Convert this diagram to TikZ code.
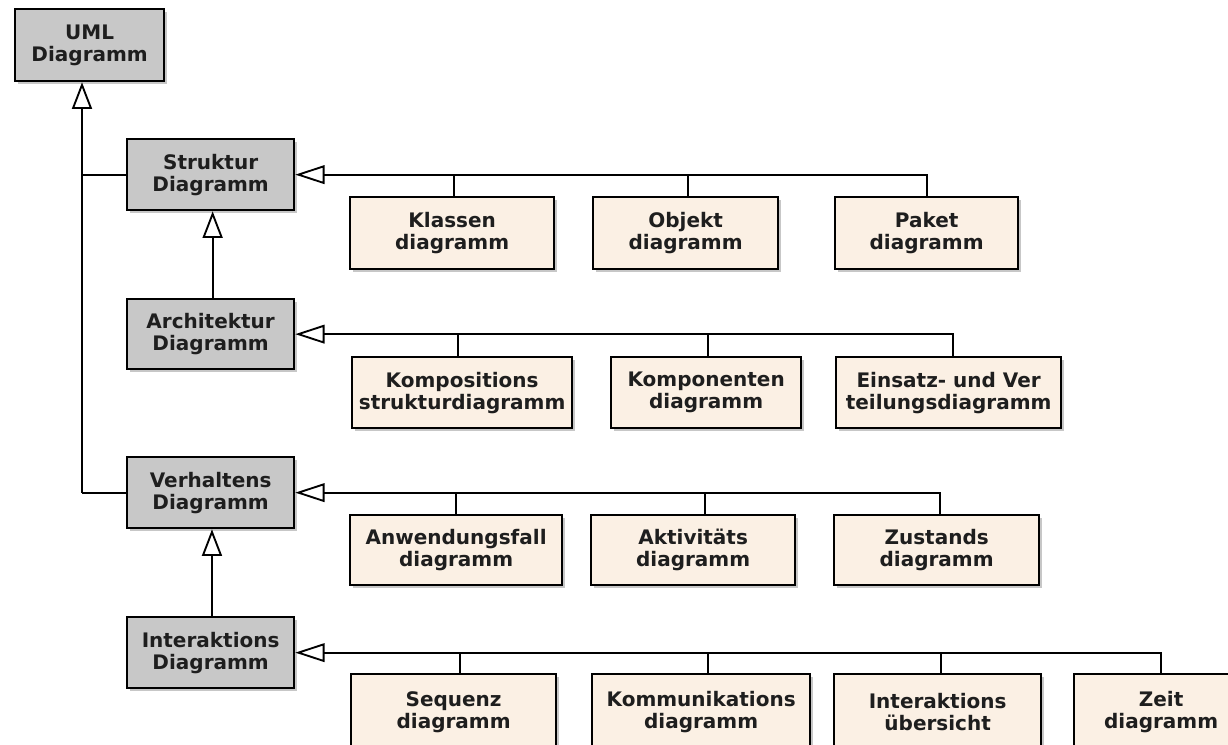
\documentclass[tikz,border=0pt]{standalone}
\usepackage{fontspec}
\setmainfont{DejaVu Sans}
\usetikzlibrary{arrows.meta,shadows}
\definecolor{grayfill}{HTML}{C8C8C8}
\definecolor{beigefill}{HTML}{FBF0E4}
\definecolor{txt}{HTML}{1E1E1E}
\newcommand\pbox[7]{%
  \node[#1, anchor=north west, minimum width={(#5-#3)*0.75pt}, minimum height={(#6-#4)*0.75pt}] (#2) at (#3,#4) {#7};}
\tikzset{
  base/.style={draw=black, line width=1.7pt, align=center, inner sep=0pt, text=txt,
    drop shadow={shadow xshift=2.5pt, shadow yshift=-2.5pt, fill=black, opacity=0.22}},
  gbox/.style={base, fill=grayfill},
  cbox/.style={base, fill=beigefill},
  link/.style={line width=1.5pt},
  gen/.style={link, -{Triangle[open, length=20pt, width=15pt, line width=1.4pt]}},
  genh/.style={link, -{Triangle[open, length=22pt, width=14pt, line width=1.4pt]}}
}
\begin{document}
\begin{tikzpicture}[x=0.75pt, y=-0.75pt, font=\fontsize{15}{16.5}\selectfont\bfseries]
\clip (0,0) rectangle (1228,744);
\fill[white] (0,0) rectangle (1228,744);
% parents
\pbox{gbox}{UML}{14}{8}{163}{80}{UML\\Diagramm}
\pbox{gbox}{Struk}{126}{138}{293}{209}{Struktur\\Diagramm}
\pbox{gbox}{Arch}{126}{298}{293}{368}{Architektur\\Diagramm}
\pbox{gbox}{Verh}{126}{456}{293}{527}{Verhaltens\\Diagramm}
\pbox{gbox}{Inter}{126}{616}{293}{687}{Interaktions\\Diagramm}
% row 1
\pbox{cbox}{Klassen}{349}{196}{553}{268}{Klassen\\diagramm}
\pbox{cbox}{Objekt}{592}{196}{777}{268}{Objekt\\diagramm}
\pbox{cbox}{Paket}{834}{196}{1017}{268}{Paket\\diagramm}
% row 2
\pbox{cbox}{Kompo}{351}{356}{571}{427}{Kompositions\\strukturdiagramm}
\pbox{cbox}{Kompon}{610}{356}{800}{427}{Komponenten\\diagramm}
\pbox{cbox}{Einsatz}{835}{356}{1060}{427}{Einsatz- und Ver\\teilungsdiagramm}
% row 3
\pbox{cbox}{Anw}{349}{514}{561}{584}{Anwendungsfall\\diagramm}
\pbox{cbox}{Akt}{590}{514}{794}{584}{Aktivitäts\\diagramm}
\pbox{cbox}{Zust}{833}{514}{1038}{584}{Zustands\\diagramm}
% row 4
\pbox{cbox}{Seq}{350}{673}{555}{749}{Sequenz\\diagramm}
\pbox{cbox}{Komm}{591}{673}{809}{749}{Kommunikations\\diagramm}
\pbox{cbox}{Ueb}{833}{673}{1040}{749}{Interaktions\\übersicht}
\pbox{cbox}{Zeit}{1073}{673}{1247}{749}{Zeit\\diagramm}
% trunk
\coordinate (trunk) at (82,0);
\draw[link] (Verh.west) -- (Verh.west -| trunk);
\draw[gen] (Verh.west -| trunk) -- (trunk |- UML.south);
\draw[link] (Struk.west) -- (Struk.west -| trunk);
\draw[gen] ([xshift=1.5pt]Arch.north) -- ([xshift=1.5pt]Struk.south);
\draw[gen] ([xshift=1pt]Inter.north) -- ([xshift=1pt]Verh.south);
% row 1
\draw[genh] (Paket.north) |- (Struk.east);
\draw[link] ([xshift=1.5pt]Klassen.north) -- ([xshift=1.5pt]Klassen.north |- Struk.east);
\draw[link] ([xshift=2pt]Objekt.north) -- ([xshift=2pt]Objekt.north |- Struk.east);
% row 2
\draw[genh] ([xshift=3.5pt]Einsatz.north) |- (Arch.east);
\draw[link] ([xshift=-3pt]Kompo.north) -- ([xshift=-3pt]Kompo.north |- Arch.east);
\draw[link] ([xshift=1.5pt]Kompon.north) -- ([xshift=1.5pt]Kompon.north |- Arch.east);
% row 3
\draw[genh] ([xshift=2.5pt]Zust.north) |- (Verh.east);
\draw[link] (Anw.north) -- (Anw.north |- Verh.east);
\draw[link] ([xshift=9pt]Akt.north) -- ([xshift=9pt]Akt.north |- Verh.east);
% row 4
\draw[genh] (Zeit.north) |- (Inter.east);
\draw[link] ([xshift=5pt]Seq.north) -- ([xshift=5pt]Seq.north |- Inter.east);
\draw[link] ([xshift=5pt]Komm.north) -- ([xshift=5pt]Komm.north |- Inter.east);
\draw[link] ([xshift=2.5pt]Ueb.north) -- ([xshift=2.5pt]Ueb.north |- Inter.east);
\end{tikzpicture}
\end{document}
